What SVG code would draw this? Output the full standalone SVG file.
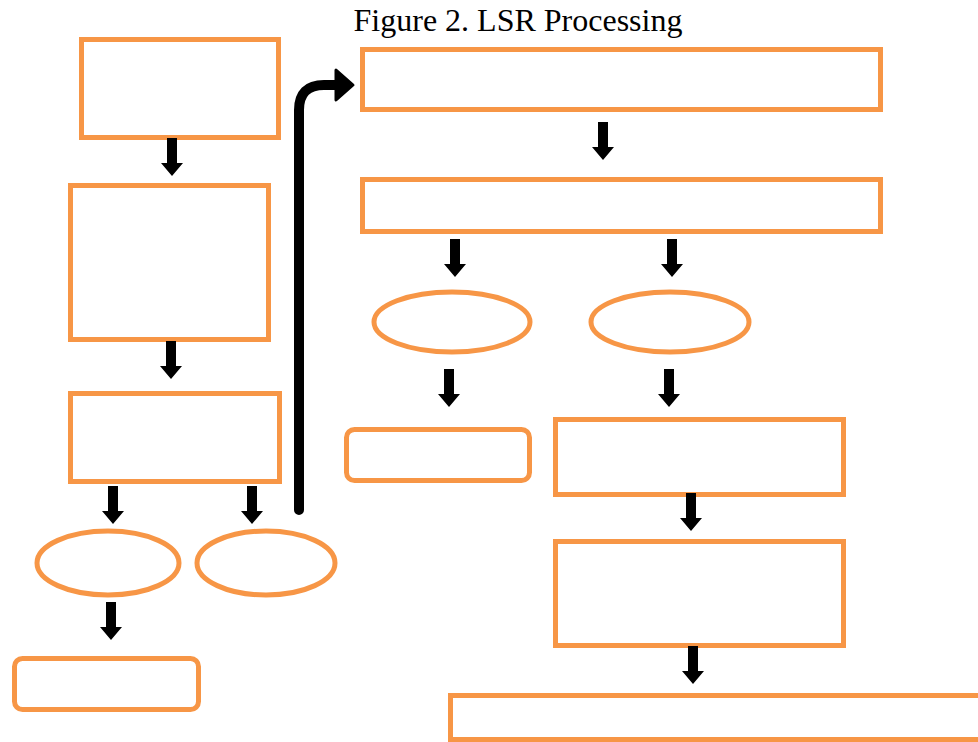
<svg xmlns="http://www.w3.org/2000/svg" width="978" height="742" viewBox="0 0 978 742">
<defs>
<style>
.n{fill:#fff;stroke:#F79646;stroke-width:5}
.t{font-family:"Liberation Serif",serif;font-size:32px;fill:#000}
</style>
<path id="dn" d="M-5,0 H5 V25 H11 L0,38 L-11,25 H-5 Z" fill="#000"/>
</defs>
<rect width="978" height="742" fill="#fff"/>
<text class="t" x="518" y="31" text-anchor="middle">Figure 2. LSR Processing</text>
<g id="b1"><rect class="n" x="81.5" y="39.5" width="197" height="98"/></g>
<g id="b2"><rect class="n" x="70.5" y="185.5" width="198" height="154"/></g>
<g id="b3"><rect class="n" x="70.5" y="393.5" width="209" height="88"/></g>
<g id="e1"><ellipse class="n" cx="108" cy="563" rx="71" ry="32"/></g>
<g id="e2"><ellipse class="n" cx="266" cy="563" rx="69" ry="32"/></g>
<g id="r1"><rect class="n" x="14.5" y="658.5" width="184" height="51" rx="8"/></g>
<g id="b4"><rect class="n" x="362.5" y="49.5" width="518" height="60"/></g>
<g id="b5"><rect class="n" x="362.5" y="179.5" width="518" height="52"/></g>
<g id="e3"><ellipse class="n" cx="452" cy="322" rx="78" ry="30"/></g>
<g id="e4"><ellipse class="n" cx="670" cy="322" rx="79" ry="30"/></g>
<g id="r2"><rect class="n" x="346.5" y="429.5" width="183" height="51" rx="8"/></g>
<g id="b6"><rect class="n" x="555.5" y="419.5" width="288" height="75"/></g>
<g id="b7"><rect class="n" x="555.5" y="541.5" width="288" height="104"/></g>
<g id="b8"><rect class="n" x="450.5" y="695.5" width="540" height="44"/></g>
<g id="connectors">
<use href="#dn" x="172" y="138"/>
<use href="#dn" x="171" y="341"/>
<use href="#dn" x="113" y="486"/>
<use href="#dn" x="252" y="486"/>
<use href="#dn" x="111" y="602"/>
<use href="#dn" x="603" y="122"/>
<use href="#dn" x="455" y="239"/>
<use href="#dn" x="672" y="239"/>
<use href="#dn" x="449" y="369"/>
<use href="#dn" x="669" y="369"/>
<use href="#dn" x="691" y="493"/>
<use href="#dn" x="693" y="646"/>
<path d="M299,510 V110 Q299,85 324,85 H338" fill="none" stroke="#000" stroke-width="10" stroke-linecap="round"/>
<path d="M336,70 L353,85 L336,100 Z" fill="#000" stroke="#000" stroke-width="3" stroke-linejoin="round"/>
</g>
</svg>
